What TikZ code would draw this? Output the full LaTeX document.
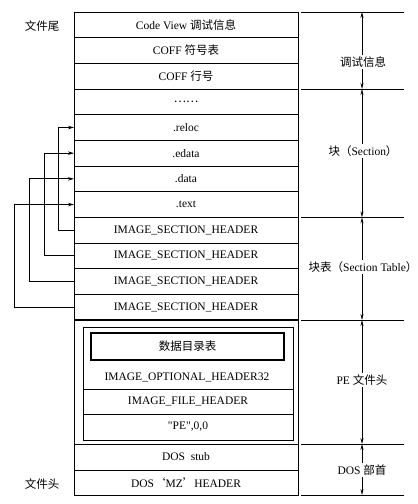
\documentclass[tikz,border=0pt]{standalone}
\usepackage{fontspec}
\setmainfont{Liberation Serif}
\newfontfamily\rawserif{Liberation Serif}[Ligatures=Common]
\newfontfamily\cjk{Noto Sans CJK SC}
\usetikzlibrary{arrows.meta}
\newcommand{\zh}[1]{{\cjk #1}}
\begin{document}
\begin{tikzpicture}[x=1pt,y=-1pt,line width=1pt,
  font=\fontsize{11.5}{13}\selectfont,
  row/.style={draw,minimum width=224pt,minimum height=25.67pt,inner sep=0pt,outer sep=0pt,anchor=north},
  box/.style={draw,inner sep=0pt,outer sep=0pt},
  ptr/.style={line width=0.8pt,-{Stealth[length=6pt,width=3.5pt]}},
  dim/.style={{Stealth[length=6pt,width=3pt]}-{Stealth[length=6pt,width=3pt]},line width=0.7pt},
  lab/.style={fill=white,inner sep=2pt},
  ]
\useasboundingbox (0,0) rectangle (418,504);
% stacked rows
\node[row] (r0)  at (186,12)     {Code View \zh{调试信息}};
\node[row] (r1)  at (186,37.67)  {COFF \zh{符号表}};
\node[row] (r2)  at (186,63.33)  {COFF \zh{行号}};
\node[row] (r3)  at (186,89)     {\zh{……}};
\node[row] (r4)  at (186,114.67) {.reloc};
\node[row] (r5)  at (186,140.33) {.edata};
\node[row] (r6)  at (186,166)    {.data};
\node[row] (r7)  at (186,191.67) {.text};
\node[row] (r8)  at (186,217.33) {IMAGE\_SECTION\_HEADER};
\node[row] (r9)  at (186,243)    {IMAGE\_SECTION\_HEADER};
\node[row] (r10) at (186,268.67) {IMAGE\_SECTION\_HEADER};
\node[row] (r11) at (186,294.33) {IMAGE\_SECTION\_HEADER};
% PE header
\node[box,minimum width=224pt,minimum height=124pt] (pe) at (186,382) {};
\draw[line width=1.6pt] (pe.north west) -- (pe.north east);
\node[box,minimum width=210pt,minimum height=62pt] (opt) at (188,358) {};
\node[box,minimum width=210pt,minimum height=25pt] (fh) at (188,401.5) {IMAGE\_FILE\_HEADER};
\node[box,minimum width=210pt,minimum height=26pt] (sig) at (188,427) {\rawserif "PE",0,0};
\node[box,line width=1.3pt,minimum width=193pt,minimum height=27pt] (dd) at (187.5,346.5) {\zh{数据目录表}};
\node (optt) at (187,377.5) {IMAGE\_OPTIONAL\_HEADER32};
% DOS
\node[row,minimum height=26pt] (d0) at (186,444) {DOS\ \ stub};
\node[row,minimum height=25pt] (d1) at (186,470) {DOS\zh{‘}MZ\zh{’}HEADER};
% left labels
\node (tail) at (42,26) {\zh{文件尾}};
\node (head) at (42,484) {\zh{文件头}};
% pointers
\draw[ptr] (r8.west)  -- ([xshift=-16pt]r8.west)  |- (r4.west);
\draw[ptr] (r9.west)  -- ([xshift=-30pt]r9.west)  |- (r5.west);
\draw[ptr] (r10.west) -- ([xshift=-45pt]r10.west) |- (r6.west);
\draw[ptr] (r11.west) -- ([xshift=-60pt]r11.west) |- (r7.west);
% right dimension lines
\foreach \y/\n in {12/0,89/1,217.33/2,320/3,444/4,495/5}{
  \draw[line width=0.8pt] (301,\y) -- (404,\y);
  \coordinate (m\n) at (362,\y);
}
\draw[dim] (m0) -- (m1);
\draw[dim] (m1) -- (m2);
\draw[dim] (m2) -- (m3);
\draw[dim] (m3) -- (m4);
\draw[dim] (m4) -- (m5);
\node[lab] (l0) at (363,62) {\zh{调试信息}};
\node[lab] (l1) at (363,151) {\zh{块（}Section\zh{）}};
\node[lab] (l2) at (363,267) {\zh{块表（}Section Table\zh{）}};
\node[lab] (l3) at (362,380) {PE \zh{文件头}};
\node[lab] (l4) at (362,470) {DOS \zh{部首}};
\end{tikzpicture}
\end{document}
